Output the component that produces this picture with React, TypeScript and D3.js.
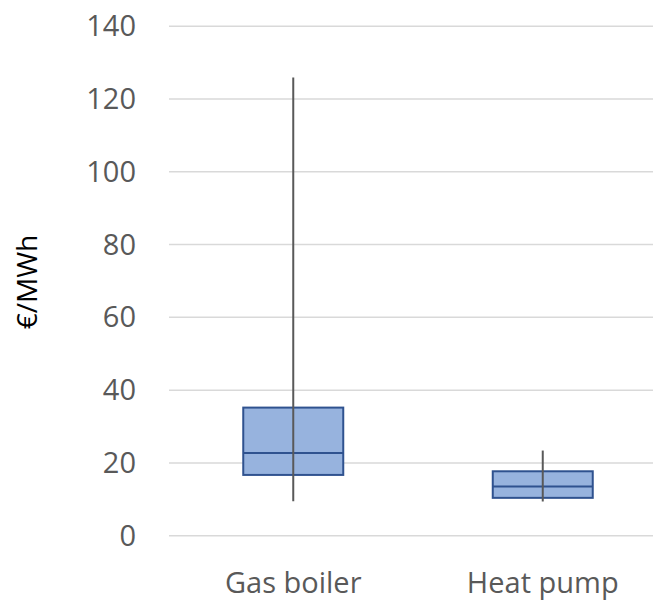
import React from "react";
import * as d3 from "d3";

const categories = ["Gas boiler", "Heat pump"];
const whiskerLow = [9.5, 9.4];
const q1 = [16.7, 10.4];
const median = [22.7, 13.5];
const q3 = [35.2, 17.7];
const whiskerHigh = [125.9, 23.4];
const yTicks = [0, 20, 40, 60, 80, 100, 120, 140];
const yTitle = "€/MWh";

const W = 653;
const H = 600;
const FONT = "'Open Sans', 'Noto Sans', sans-serif";
const TEXT = "#595959";

export default function App() {
  const y = d3.scaleLinear().domain([0, 140]).range([535.7, 26.2]);
  const x = d3.scaleBand().domain(categories).range([168.5, 667.5]);
  const boxW = 100;

  return (
    <div style={{ position: "fixed", left: 0, top: 0, width: W, height: H, overflow: "hidden", background: "#fff" }}>
      <svg width={W} height={H} style={{ display: "block" }}>
        {yTicks.map((t) => (
          <g key={t}>
            <line x1={169} x2={W} y1={y(t)} y2={y(t)} stroke="#D9D9D9" strokeWidth={1.5} />
            <text
              x={136}
              y={y(t)}
              dy="0.35em"
              textAnchor="end"
              fontFamily={FONT}
              fontSize={29}
              fill={TEXT}
            >
              {t}
            </text>
          </g>
        ))}
        <text
          transform={`translate(37,282) rotate(-90)`}
          textAnchor="middle"
          fontFamily={FONT}
          fontSize={28}
          fill="#000"
        >
          {yTitle}
        </text>
        {categories.map((c, i) => {
          const cx = (x(c) as number) + x.bandwidth() / 2;
          return (
            <g key={c}>
              <rect
                x={cx - boxW / 2}
                y={y(q3[i])}
                width={boxW}
                height={y(q1[i]) - y(q3[i])}
                fill="#97B3DE"
                stroke="#2F528F"
                strokeWidth={2}
              />
              <line
                x1={cx - boxW / 2}
                x2={cx + boxW / 2}
                y1={y(median[i])}
                y2={y(median[i])}
                stroke="#2F528F"
                strokeWidth={2}
              />
              <line
                x1={cx}
                x2={cx}
                y1={y(whiskerHigh[i])}
                y2={y(whiskerLow[i])}
                stroke="#595959"
                strokeWidth={2}
              />
              <text
                x={cx}
                y={593}
                textAnchor="middle"
                fontFamily={FONT}
                fontSize={29}
                fill={TEXT}
              >
                {c}
              </text>
            </g>
          );
        })}
      </svg>
    </div>
  );
}
